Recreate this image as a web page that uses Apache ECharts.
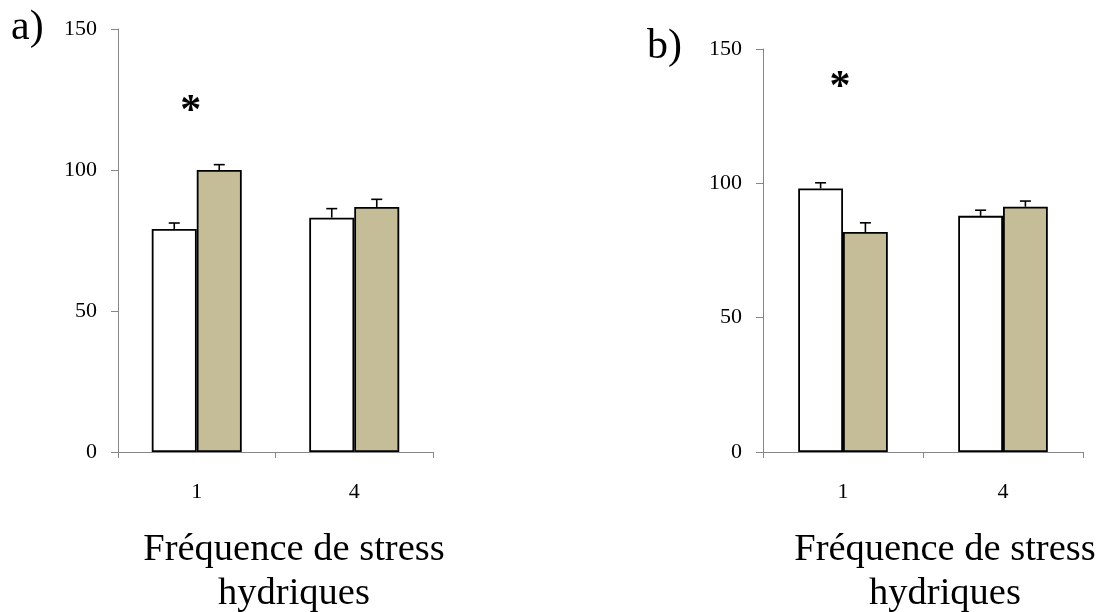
<!DOCTYPE html>
<html>
<head>
<meta charset="utf-8">
<script src="https://cdn.jsdelivr.net/npm/echarts@6/dist/echarts.min.js"></script>
<style>
html,body{margin:0;padding:0;background:#fff;}
#chart{width:1100px;height:612px;}
</style>
</head>
<body>
<div id="chart"></div>
<script>
// ---- data ----
var categories = ['1', '4'];
var aWhite = [79.1, 83.1];
var aWhiteErr = [2.1, 3.2];
var aTan = [100.0, 86.9];
var aTanErr = [1.9, 2.7];
var bWhite = [98.1, 87.9];
var bWhiteErr = [2.1, 2.1];
var bTan = [81.9, 91.3];
var bTanErr = [3.4, 2.1];
var yMin = 0, yMax = 150, yInterval = 50;
// significance marks: [category index, height]
var aStars = [[0, 123]];
var bStars = [[0, 138]];
var panelLabels = ['a)', 'b)'];
var xTitle = 'Fréquence de stress\nhydriques';

var FONT = '"Liberation Serif", "Times New Roman", serif';
var AXIS_COLOR = '#868686';
var TAN = '#C4BD97';

function errData(vals, errs) {
  return vals.map(function (v, i) { return [i, v, errs[i]]; });
}

function makeErrSeries(gridIdx, vals, errs, side, barW) {
  return {
    type: 'custom',
    xAxisIndex: gridIdx, yAxisIndex: gridIdx,
    data: errData(vals, errs),
    z: 5,
    renderItem: function (params, api) {
      var c = api.value(0), v = api.value(1), e = api.value(2);
      var p0 = api.coord([c, v]);
      var p1 = api.coord([c, v + e]);
      var x = p0[0] + side * barW / 2;
      var cap = 5.5;
      return {
        type: 'group',
        children: [
          { type: 'line', shape: { x1: x, y1: p0[1], x2: x, y2: p1[1] }, style: { stroke: '#000', lineWidth: 1.6 } },
          { type: 'line', shape: { x1: x - cap, y1: p1[1], x2: x + cap, y2: p1[1] }, style: { stroke: '#000', lineWidth: 1.6 } }
        ]
      };
    }
  };
}

function makeStarSeries(gridIdx, stars, dx) {
  return {
    type: 'custom',
    xAxisIndex: gridIdx, yAxisIndex: gridIdx,
    data: stars,
    z: 6,
    renderItem: function (params, api) {
      var p = api.coord([api.value(0), api.value(1)]);
      return {
        type: 'text',
        x: p[0] + dx, y: p[1] + 7,
        style: { text: '*', fontFamily: FONT, fontSize: 42, fontWeight: 'bold', fill: '#000', align: 'center', verticalAlign: 'middle' }
      };
    }
  };
}

function xAxisCfg(gridIdx) {
  return {
    type: 'category', gridIndex: gridIdx, data: categories,
    axisLine: { lineStyle: { color: AXIS_COLOR, width: 1 } },
    axisTick: { show: true, length: 6, lineStyle: { color: AXIS_COLOR } },
    axisLabel: { color: '#000', fontFamily: FONT, fontSize: 22, margin: 29 },
    splitLine: { show: false }
  };
}
function yAxisCfg(gridIdx) {
  return {
    type: 'value', gridIndex: gridIdx, min: yMin, max: yMax, interval: yInterval,
    axisLine: { show: true, lineStyle: { color: AXIS_COLOR, width: 1 } },
    axisTick: { show: true, length: 7, lineStyle: { color: AXIS_COLOR } },
    axisLabel: { color: '#000', fontFamily: FONT, fontSize: 22, margin: 21 },
    splitLine: { show: false }
  };
}
function barSeries(gridIdx, vals, color, barW) {
  return {
    type: 'bar', xAxisIndex: gridIdx, yAxisIndex: gridIdx,
    data: vals, barWidth: barW, barGap: '0%',
    itemStyle: { color: color, borderColor: '#000', borderWidth: 1.8 },
    z: 2
  };
}

var chart = echarts.init(document.getElementById('chart'), null, { renderer: 'canvas' });
var bwA = 45, bwB = 44.8;
chart.setOption({
  animation: false,
  backgroundColor: '#fff',
  title: [
    { text: panelLabels[0], left: 6, top: 2, textStyle: { fontFamily: FONT, fontSize: 42, fontWeight: 'normal', color: '#000' } },
    { text: panelLabels[1], left: 642, top: 21, textStyle: { fontFamily: FONT, fontSize: 42, fontWeight: 'normal', color: '#000' } },
    { text: xTitle, left: 289, top: 523, textAlign: 'center', textStyle: { fontFamily: FONT, fontSize: 38.5, lineHeight: 44, fontWeight: 'normal', color: '#000', align: 'center' } },
    { text: xTitle, left: 940, top: 523, textAlign: 'center', textStyle: { fontFamily: FONT, fontSize: 38.5, lineHeight: 44, fontWeight: 'normal', color: '#000', align: 'center' } }
  ],
  grid: [
    { left: 118, top: 29, width: 315, height: 423 },
    { left: 763, top: 49, width: 320, height: 403 }
  ],
  xAxis: [xAxisCfg(0), xAxisCfg(1)],
  yAxis: [yAxisCfg(0), yAxisCfg(1)],
  series: [
    barSeries(0, aWhite, '#fff', bwA),
    barSeries(0, aTan, TAN, bwA),
    barSeries(1, bWhite, '#fff', bwB),
    barSeries(1, bTan, TAN, bwB),
    makeErrSeries(0, aWhite, aWhiteErr, -1, bwA),
    makeErrSeries(0, aTan, aTanErr, 1, bwA),
    makeErrSeries(1, bWhite, bWhiteErr, -1, bwB),
    makeErrSeries(1, bTan, bTanErr, 1, bwB),
    makeStarSeries(0, aStars, -6),
    makeStarSeries(1, bStars, -3)
  ]
});
</script>
</body>
</html>
